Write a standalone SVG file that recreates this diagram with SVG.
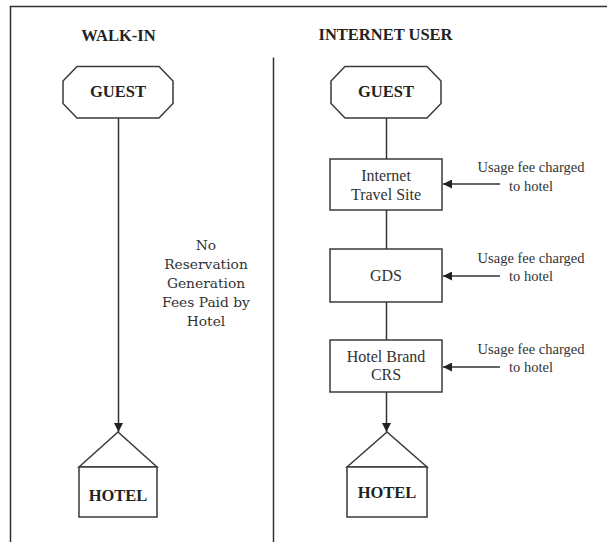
<svg xmlns="http://www.w3.org/2000/svg" width="607" height="542" viewBox="0 0 607 542">
<defs>
<style>
.ln{stroke:#333;stroke-width:1.5;fill:none}
.sh{stroke:#3a3a3a;stroke-width:1.5;fill:#fff}
.hd{font-family:"Liberation Serif",serif;font-weight:bold;font-size:16.5px;fill:#222;text-anchor:middle}
.bx{font-family:"Liberation Serif",serif;font-size:16px;fill:#333;text-anchor:middle}
.us{font-family:"Liberation Serif",serif;font-size:14.5px;fill:#333;text-anchor:middle}
.nt{font-family:"DejaVu Serif",serif;font-size:13.8px;fill:#333;text-anchor:middle}
</style>
<marker id="ah" markerWidth="10" markerHeight="9" refX="9" refY="4.5" orient="auto" markerUnits="userSpaceOnUse">
<path d="M0,0 L9,4.5 L0,9 Z" fill="#222"/>
</marker>
</defs>
<rect width="607" height="542" fill="#fff"/>
<g id="frame">
<path class="ln" d="M10.5,542 V6.5 H607"/>
<line class="ln" x1="273.5" y1="57.5" x2="273.5" y2="542"/>
</g>
<g id="titles">
<text class="hd" x="118.5" y="41">WALK-IN</text>
<text class="hd" x="385.5" y="40">INTERNET USER</text>
</g>
<g id="connectors">
<line class="ln" x1="118.5" y1="118" x2="118.5" y2="432" marker-end="url(#ah)"/>
<line class="ln" x1="386.5" y1="118" x2="386.5" y2="159"/>
<line class="ln" x1="386.5" y1="210" x2="386.5" y2="249"/>
<line class="ln" x1="386.5" y1="302" x2="386.5" y2="340"/>
<line class="ln" x1="386.5" y1="392" x2="386.5" y2="432" marker-end="url(#ah)"/>
<line class="ln" x1="500" y1="184" x2="443" y2="184" marker-end="url(#ah)"/>
<line class="ln" x1="500" y1="276" x2="443" y2="276" marker-end="url(#ah)"/>
<line class="ln" x1="500" y1="367" x2="443" y2="367" marker-end="url(#ah)"/>
</g>
<g id="guest-walkin">
<polygon class="sh" points="77,66.5 159,66.5 173,81 173,103.5 159,118 77,118 63,103.5 63,81"/>
<text class="hd" x="118" y="97">GUEST</text>
</g>
<g id="guest-internet">
<polygon class="sh" points="345,66.5 427,66.5 441,81 441,103.5 427,118 345,118 331,103.5 331,81"/>
<text class="hd" x="386" y="97">GUEST</text>
</g>
<g id="note-walkin">
<text class="nt" x="206" y="250">No</text>
<text class="nt" x="206" y="269">Reservation</text>
<text class="nt" x="206" y="288">Generation</text>
<text class="nt" x="206" y="307">Fees Paid by</text>
<text class="nt" x="206" y="326">Hotel</text>
</g>
<g id="hotel-walkin">
<path class="sh" d="M79,467 L118,432 L157,467 Z"/>
<rect class="sh" x="79" y="467" width="78" height="50"/>
<text class="hd" x="118" y="500.5">HOTEL</text>
</g>
<g id="internet-travel-site">
<rect class="sh" x="330" y="159" width="112" height="51"/>
<text class="bx" x="386" y="180.5">Internet</text>
<text class="bx" x="386" y="200">Travel Site</text>
</g>
<g id="gds">
<rect class="sh" x="330" y="249" width="112" height="53"/>
<text class="bx" x="386" y="280.5">GDS</text>
</g>
<g id="hotel-brand-crs">
<rect class="sh" x="330" y="340" width="112" height="52"/>
<text class="bx" x="386" y="361.5">Hotel Brand</text>
<text class="bx" x="386" y="380">CRS</text>
</g>
<g id="hotel-internet">
<path class="sh" d="M347,467 L387,432 L427,467 Z"/>
<rect class="sh" x="347" y="467" width="80" height="50"/>
<text class="hd" x="387" y="497.5">HOTEL</text>
</g>
<g id="fee-notes">
<text class="us" x="531" y="171.5">Usage fee charged</text>
<text class="us" x="531" y="190.5">to hotel</text>
<text class="us" x="531" y="263">Usage fee charged</text>
<text class="us" x="531" y="281">to hotel</text>
<text class="us" x="531" y="353.5">Usage fee charged</text>
<text class="us" x="531" y="371.5">to hotel</text>
</g>
</svg>
